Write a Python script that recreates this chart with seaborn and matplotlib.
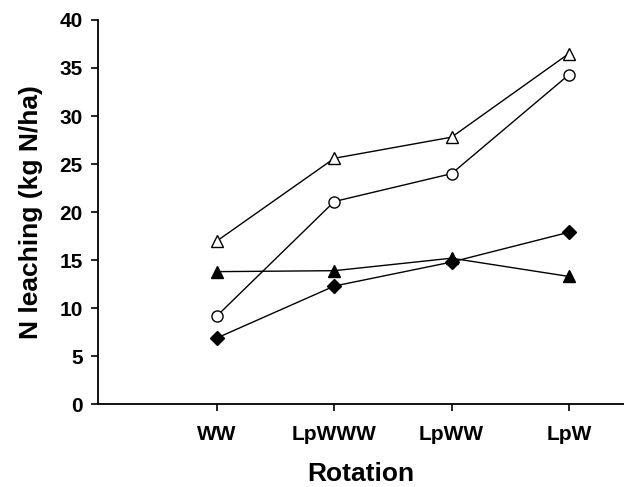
"""
N leaching by rotation
"""

import numpy as np
import pandas as pd
import matplotlib

matplotlib.use("Agg")
import matplotlib.pyplot as plt
import seaborn as sns

rotations = ['WW', 'LpWWW', 'LpWW', 'LpW']
open_triangle = [17.0, 25.6, 27.8, 36.5]
open_circle = [9.2, 21.1, 24.0, 34.3]
filled_triangle = [13.8, 13.9, 15.2, 13.3]
filled_diamond = [6.9, 12.3, 14.8, 17.9]

sns.set_theme(style='ticks')
plt.rcParams['font.family'] = ['Liberation Sans', 'DejaVu Sans']
plt.rcParams['font.weight'] = 'bold'
plt.rcParams['text.color'] = 'black'
plt.rcParams['axes.labelcolor'] = 'black'

fig = plt.figure(figsize=(6.24, 4.87), dpi=100)
ax = fig.add_axes([0.157, 0.170, 0.843, 0.789])

pos = np.arange(1, len(rotations) + 1)
series = [
    (open_triangle, '^', 'white', 9),
    (open_circle, 'o', 'white', 8),
    (filled_triangle, '^', 'black', 9),
    (filled_diamond, 'D', 'black', 7),
]
for vals, mk, fc, ms in series:
    df = pd.DataFrame({'x': pos, 'y': vals})
    sns.lineplot(data=df, x='x', y='y', ax=ax, color='black', lw=1.0,
                 marker=mk, markersize=ms, markerfacecolor=fc,
                 markeredgecolor='black', markeredgewidth=1.0)

ax.set_xlim(-0.015, 4.47)
ax.set_ylim(0, 40)
ax.set_xticks(pos)
ax.set_xticklabels(rotations)
ax.set_yticks(range(0, 41, 5))
ax.tick_params(axis='both', labelsize=15, width=1.2, length=5, colors='black')
ax.tick_params(axis='x', pad=10)
ax.tick_params(axis='y', pad=6)
for lab in ax.get_xticklabels() + ax.get_yticklabels():
    lab.set_fontweight('bold')
ax.set_xlabel('Rotation', fontsize=19, fontweight='bold', labelpad=13)
ax.set_ylabel('N leaching (kg N/ha)', fontsize=19, fontweight='bold', labelpad=12)
sns.despine(ax=ax)
for s in ['left', 'bottom']:
    ax.spines[s].set_linewidth(1.3)
    ax.spines[s].set_color('black')

fig.savefig('out.png', dpi=100)
